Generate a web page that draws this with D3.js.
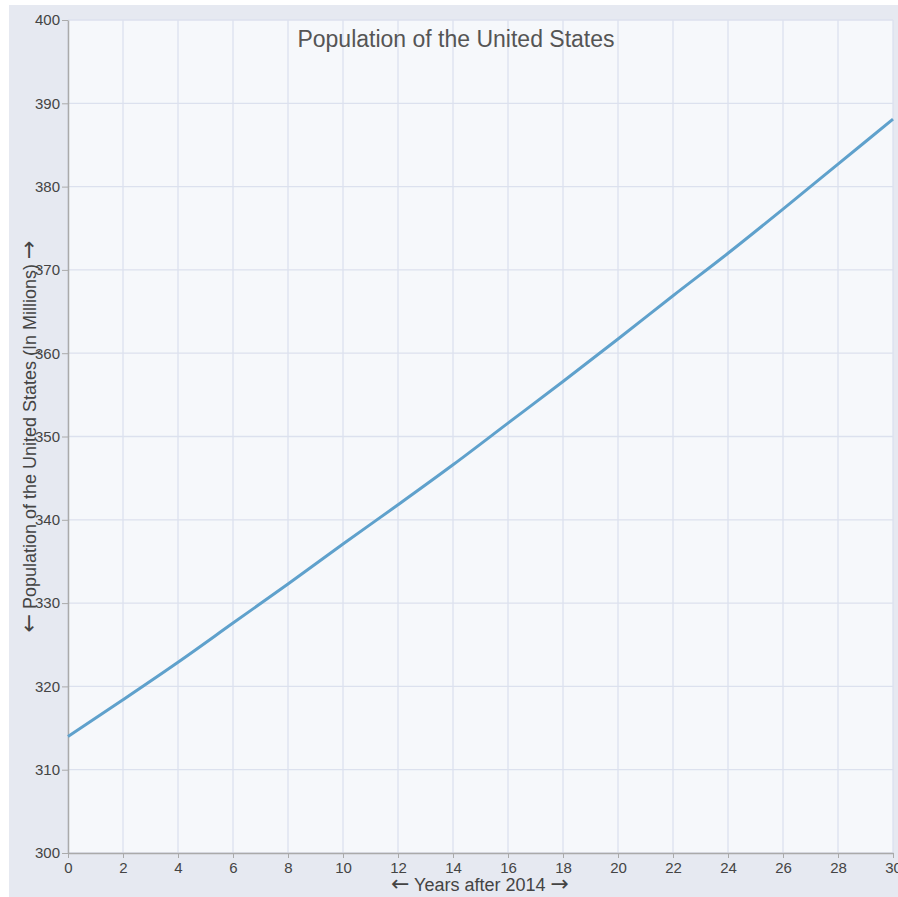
<!DOCTYPE html>
<html>
<head>
<meta charset="utf-8">
<script src="https://cdn.jsdelivr.net/npm/d3@7"></script>
<style>
  body { margin: 0; background: #fff; font-family: "Liberation Sans", Arial, sans-serif; }
</style>
</head>
<body>
<div id="chart"></div>
<script>
// Data
const years = [0, 2, 4, 6, 8, 10, 12, 14, 16, 18, 20, 22, 24, 26, 28, 30];
const population = [314.0, 318.4, 322.9, 327.6, 332.3, 337.1, 341.8, 346.6, 351.6, 356.6, 361.7, 366.9, 372.0, 377.3, 382.7, 388.1];
const xTicks = [0, 2, 4, 6, 8, 10, 12, 14, 16, 18, 20, 22, 24, 26, 28, 30];
const yTicks = [300, 310, 320, 330, 340, 350, 360, 370, 380, 390, 400];

const data = years.map((y, i) => ({year: y, pop: population[i]}));

const W = 898, H = 897;
const margin = {top: 20, right: 5, bottom: 44, left: 68};
const width = W - margin.left - margin.right;
const height = H - margin.top - margin.bottom;

const svg = d3.select("#chart")
  .append("svg")
  .attr("width", W)
  .attr("height", H);

// outer panel
svg.append("rect")
  .attr("x", 9).attr("y", 5)
  .attr("width", W - 9).attr("height", H - 5)
  .attr("fill", "#e6e9f1");

const g = svg.append("g")
  .attr("transform", `translate(${margin.left},${margin.top})`);

g.append("rect")
  .attr("width", width).attr("height", height)
  .attr("fill", "#f6f8fb");

const x = d3.scaleLinear().domain([0, 30]).range([0, width]);
const y = d3.scaleLinear().domain([300, 400]).range([height, 0]);

// grid
g.append("g")
  .selectAll("line")
  .data(xTicks)
  .enter().append("line")
  .attr("x1", d => x(d)).attr("x2", d => x(d))
  .attr("y1", 0).attr("y2", height)
  .attr("stroke", "#dce1ee").attr("stroke-width", 1.3);

g.append("g")
  .selectAll("line")
  .data(yTicks)
  .enter().append("line")
  .attr("x1", 0).attr("x2", width)
  .attr("y1", d => y(d)).attr("y2", d => y(d))
  .attr("stroke", "#dce1ee").attr("stroke-width", 1.3);

// axes
const xAxis = g.append("g")
  .attr("transform", `translate(0,${height})`)
  .call(d3.axisBottom(x).tickValues(xTicks).tickSize(5).tickSizeOuter(0));

const yAxis = g.append("g")
  .call(d3.axisLeft(y).tickValues(yTicks).tickSize(6).tickSizeOuter(0));

[xAxis, yAxis].forEach(a => {
  a.select(".domain").attr("stroke", "#aaaaaa").attr("stroke-width", 1.5);
  a.selectAll(".tick line").attr("stroke", "#aaaaaa");
  a.selectAll(".tick text")
    .attr("fill", "#444")
    .style("font-family", "Liberation Sans, Arial, sans-serif")
    .style("font-size", "15px");
});
xAxis.selectAll(".tick text").attr("y", 9);
yAxis.selectAll(".tick text").attr("x", -8);

// line
const line = d3.line()
  .x(d => x(d.year))
  .y(d => y(d.pop))
  .curve(d3.curveMonotoneX);

g.append("path")
  .datum(data)
  .attr("fill", "none")
  .attr("stroke", "#5fa1cc")
  .attr("stroke-width", 3)
  .attr("d", line);

// title
svg.append("text")
  .attr("x", 456).attr("y", 47)
  .attr("text-anchor", "middle")
  .attr("fill", "#555")
  .style("font-size", "23px")
  .text("Population of the United States");

// axis labels with wider arrow glyphs
function arrowLabel(sel, left, mid, right) {
  sel.append("tspan").style("font-family", "DejaVu Sans").style("font-size", "22px").text(left);
  sel.append("tspan").text(mid);
  sel.append("tspan").style("font-family", "DejaVu Sans").style("font-size", "22px").text(right);
}

const xLabel = svg.append("text")
  .attr("x", 480).attr("y", 891)
  .attr("text-anchor", "middle")
  .attr("fill", "#444")
  .style("font-size", "18px");
arrowLabel(xLabel, "\u2190", " Years after 2014 ", "\u2192");

const yLabel = svg.append("text")
  .attr("transform", `translate(36,${margin.top + height / 2}) rotate(-90)`)
  .attr("text-anchor", "middle")
  .attr("fill", "#444")
  .style("font-size", "18px");
arrowLabel(yLabel, "\u2190", " Population of the United States (In Millions) ", "\u2192");
</script>
</body>
</html>
